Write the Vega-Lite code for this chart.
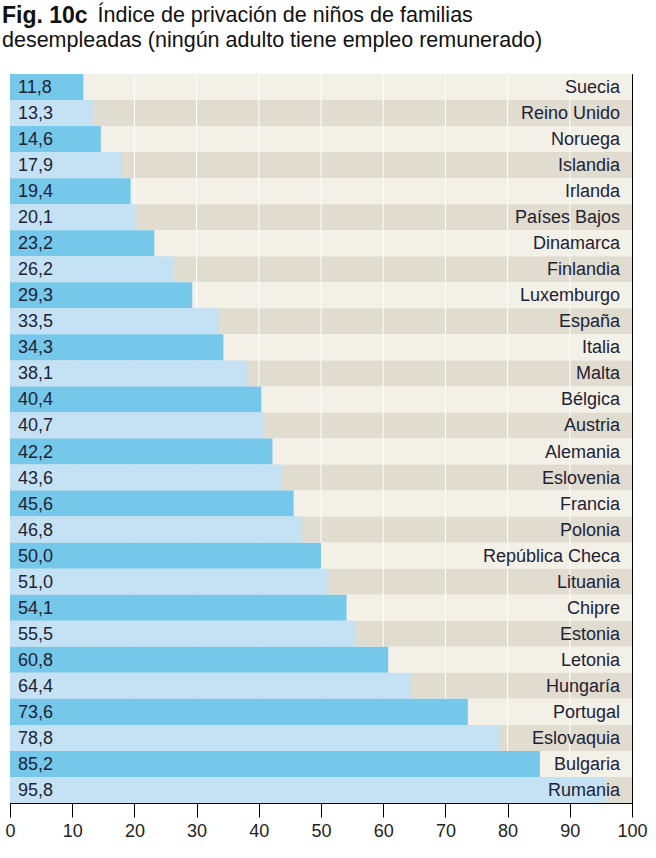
{
  "$schema": "https://vega.github.io/schema/vega-lite/v6.json",
  "autosize": "none",
  "width": 622,
  "height": 729,
  "padding": {"left": 10, "top": 74, "right": 24, "bottom": 55},
  "background": "white",
  "config": {
    "font": "Liberation Sans",
    "view": {"stroke": "#000", "strokeWidth": 1},
    "locale": {"number": {"decimal": ",", "thousands": ".", "grouping": [3], "currency": ["", " €"]}}
  },
  "title": {
    "text": "Fig. 10c",
    "subtitle": ["\u200b\u00a0\u00a0\u00a0\u00a0\u00a0\u00a0\u00a0\u00a0\u00a0\u00a0\u00a0\u00a0\u00a0\u00a0\u00a0\u00a0Índice de privación de niños de familias", "desempleadas (ningún adulto tiene empleo remunerado)"],
    "anchor": "start",
    "frame": "group",
    "dx": -8,
    "offset": 22,
    "font": "Liberation Sans",
    "fontSize": 23,
    "fontWeight": "bold",
    "color": "#111",
    "subtitleFont": "Liberation Sans",
    "subtitleFontSize": 21.5,
    "subtitleColor": "#111",
    "subtitlePadding": -23,
    "subtitleLineHeight": 25
  },
  "data": {
    "values": [
      {"country": "Suecia", "value": 11.8},
      {"country": "Reino Unido", "value": 13.3},
      {"country": "Noruega", "value": 14.6},
      {"country": "Islandia", "value": 17.9},
      {"country": "Irlanda", "value": 19.4},
      {"country": "Países Bajos", "value": 20.1},
      {"country": "Dinamarca", "value": 23.2},
      {"country": "Finlandia", "value": 26.2},
      {"country": "Luxemburgo", "value": 29.3},
      {"country": "España", "value": 33.5},
      {"country": "Italia", "value": 34.3},
      {"country": "Malta", "value": 38.1},
      {"country": "Bélgica", "value": 40.4},
      {"country": "Austria", "value": 40.7},
      {"country": "Alemania", "value": 42.2},
      {"country": "Eslovenia", "value": 43.6},
      {"country": "Francia", "value": 45.6},
      {"country": "Polonia", "value": 46.8},
      {"country": "República Checa", "value": 50.0},
      {"country": "Lituania", "value": 51.0},
      {"country": "Chipre", "value": 54.1},
      {"country": "Estonia", "value": 55.5},
      {"country": "Letonia", "value": 60.8},
      {"country": "Hungaría", "value": 64.4},
      {"country": "Portugal", "value": 73.6},
      {"country": "Eslovaquia", "value": 78.8},
      {"country": "Bulgaria", "value": 85.2},
      {"country": "Rumania", "value": 95.8}
    ]
  },
  "transform": [
    {"window": [{"op": "row_number", "as": "rank"}], "sort": [{"field": "value", "order": "ascending"}]},
    {"calculate": "datum.rank % 2 == 1 ? 'odd' : 'even'", "as": "band"}
  ],
  "encoding": {
    "y": {
      "field": "country",
      "type": "nominal",
      "sort": {"field": "value", "order": "ascending"},
      "scale": {"paddingInner": 0, "paddingOuter": 0},
      "axis": null
    }
  },
  "resolve": {"scale": {"color": "independent"}},
  "layer": [
    {
      "mark": {"type": "bar"},
      "encoding": {
        "x": {"datum": 0, "type": "quantitative", "scale": {"domain": [0, 100], "nice": false}},
        "x2": {"datum": 100},
        "color": {
          "field": "band",
          "type": "nominal",
          "scale": {"domain": ["odd", "even"], "range": ["#f3f0e7", "#e0dccf"]},
          "legend": null
        }
      }
    },
    {
      "data": {"values": [{"t": 10}, {"t": 20}, {"t": 30}, {"t": 40}, {"t": 50}, {"t": 60}, {"t": 70}, {"t": 80}, {"t": 90}]},
      "mark": {"type": "rule", "color": "#ffffff", "strokeWidth": 1},
      "encoding": {
        "y": null,
        "x": {"field": "t", "type": "quantitative"}
      }
    },
    {
      "mark": {"type": "bar"},
      "encoding": {
        "x": {
          "field": "value",
          "type": "quantitative",
          "scale": {"domain": [0, 100], "nice": false},
          "axis": {
            "values": [0, 10, 20, 30, 40, 50, 60, 70, 80, 90, 100],
            "title": null,
            "grid": false,
            "domain": true,
            "domainColor": "#000",
            "tickColor": "#000",
            "tickSize": 14,
            "labelFontSize": 18,
            "labelColor": "#222",
            "labelPadding": 5,
            "labelFlush": false,
            "labelFont": "Liberation Sans"
          }
        },
        "color": {
          "field": "band",
          "type": "nominal",
          "scale": {"domain": ["odd", "even"], "range": ["#75c8e9", "#c5e2f5"]},
          "legend": null
        }
      }
    },
    {
      "mark": {"type": "text", "align": "left", "baseline": "middle", "dx": 8, "dy": 1, "fontSize": 18, "color": "#1e2235"},
      "encoding": {
        "x": {"datum": 0, "type": "quantitative"},
        "text": {"field": "value", "type": "quantitative", "format": ".1f"}
      }
    },
    {
      "mark": {"type": "text", "align": "right", "baseline": "middle", "dx": -12, "dy": 1, "fontSize": 18, "color": "#1e2235"},
      "encoding": {
        "x": {"datum": 100, "type": "quantitative"},
        "text": {"field": "country", "type": "nominal"}
      }
    }
  ]
}
